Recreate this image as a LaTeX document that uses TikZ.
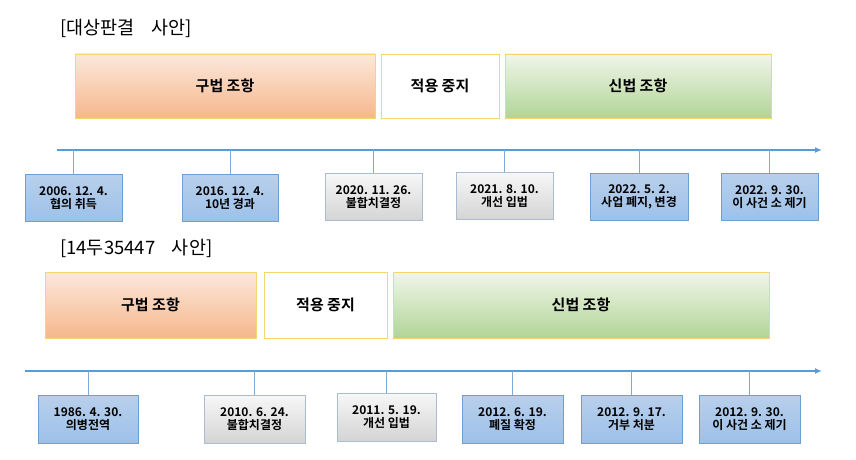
\documentclass[tikz,border=0pt]{standalone}
\usepackage{fontspec}
\newfontfamily\kr{Noto Sans CJK KR}
\newfontfamily\krb{Noto Sans CJK KR Bold}
\usetikzlibrary{arrows.meta}
\definecolor{axisblue}{HTML}{5B9BD5}
\definecolor{tickblue}{HTML}{7FAAD8}
\definecolor{barline}{HTML}{F5D66A}
\definecolor{evblueline}{HTML}{6E9FD3}
\definecolor{evgrayline}{HTML}{A9BCD2}
\tikzset{
  bar/.style={draw=barline,line width=0.9pt,inner sep=0pt,
    font=\krb\fontsize{15}{17}\selectfont},
  oldlaw/.style={bar,top color={rgb,255:red,252;green,232;blue,220},bottom color={rgb,255:red,246;green,183;blue,140}},
  halted/.style={bar,fill=white},
  newlaw/.style={bar,top color={rgb,255:red,240;green,246;blue,234},bottom color={rgb,255:red,178;green,212;blue,150}},
  ev/.style={line width=0.8pt,inner sep=0pt,minimum height=47pt,align=center,
    font=\krb\fontsize{12}{13.5}\selectfont},
  evblue/.style={ev,draw=evblueline,top color={rgb,255:red,184;green,207;blue,236},bottom color={rgb,255:red,157;green,193;blue,232}},
  evgray/.style={ev,draw=evgrayline,top color={rgb,255:red,247;green,247;blue,247},bottom color={rgb,255:red,212;green,212;blue,212}},
  timeaxis/.style={draw=axisblue,line width=2pt,-{Latex[length=7pt,width=6pt]}},
  tick/.style={draw=tickblue,line width=0.9pt},
  casetitle/.style={anchor=west,inner sep=0pt,font=\kr\fontsize{18.5}{20}\selectfont}
}
\begin{document}
\begin{tikzpicture}[x=1pt,y=-1pt]
  \useasboundingbox (0,0) rectangle (856,460);
  % [대상판결 사안]
  \node[casetitle] (t1) at (60,28) {[대상판결\hspace{0.9em}사안]};
  \node[oldlaw,minimum width=300pt,minimum height=64pt] (old1) at (225,86) {구법 조항};
  \node[halted,minimum width=118pt,minimum height=64pt] (halt1) at (440,86) {적용 중지};
  \node[newlaw,minimum width=266pt,minimum height=64pt] (new1) at (638,86) {신법 조항};
  \coordinate (a1s) at (57,150);
  \coordinate (a1e) at (822,150);
  \draw[timeaxis] (a1s) -- (a1e);
  \node[evblue,minimum width=97pt] (e11) at (73.5,198) {2006. 12. 4.\\협의 취득};
  \node[evblue,minimum width=96pt] (e12) at (230,198) {2016. 12. 4.\\10년 경과};
  \node[evgray,minimum width=97pt] (e13) at (373.5,197) {2020. 11. 26.\\불합치결정};
  \node[evgray,minimum width=97pt] (e14) at (504.5,196) {2021. 8. 10.\\개선 입법};
  \node[evblue,minimum width=98pt] (e15) at (639,197) {2022. 5. 2.\\사업 폐지, 변경};
  \node[evblue,minimum width=97pt] (e16) at (769.5,197) {2022. 9. 30.\\이 사건 소 제기};
  \foreach \e in {e11,e12,e13,e14,e15,e16}
    \draw[tick] (\e.north) -- (\e.north |- a1s);
  % [14두35447 사안]
  \node[casetitle] (t2) at (60,248) {[14두35447\hspace{0.9em}사안]};
  \node[oldlaw,minimum width=211pt,minimum height=66pt] (old2) at (150.5,305) {구법 조항};
  \node[halted,minimum width=123pt,minimum height=66pt] (halt2) at (325.5,305) {적용 중지};
  \node[newlaw,minimum width=376pt,minimum height=66pt] (new2) at (581,305) {신법 조항};
  \coordinate (a2s) at (25,371);
  \coordinate (a2e) at (822,371);
  \draw[timeaxis] (a2s) -- (a2e);
  \node[evblue,minimum width=100pt,minimum height=48pt] (e21) at (88,419) {1986. 4. 30.\\의병전역};
  \node[evgray,minimum width=101pt,minimum height=48pt] (e22) at (254.5,419) {2010. 6. 24.\\불합치결정};
  \node[evgray,minimum width=99pt,minimum height=48pt] (e23) at (386.5,417) {2011. 5. 19.\\개선 입법};
  \node[evblue,minimum width=101pt,minimum height=48pt] (e24) at (512.5,419) {2012. 6. 19.\\폐질 확정};
  \node[evblue,minimum width=101pt,minimum height=48pt] (e25) at (631.5,419) {2012. 9. 17.\\거부 처분};
  \node[evblue,minimum width=101pt,minimum height=48pt] (e26) at (749.5,419) {2012. 9. 30.\\이 사건 소 제기};
  \foreach \e in {e21,e22,e23,e24,e25,e26}
    \draw[tick] (\e.north) -- (\e.north |- a2s);
\end{tikzpicture}
\end{document}
